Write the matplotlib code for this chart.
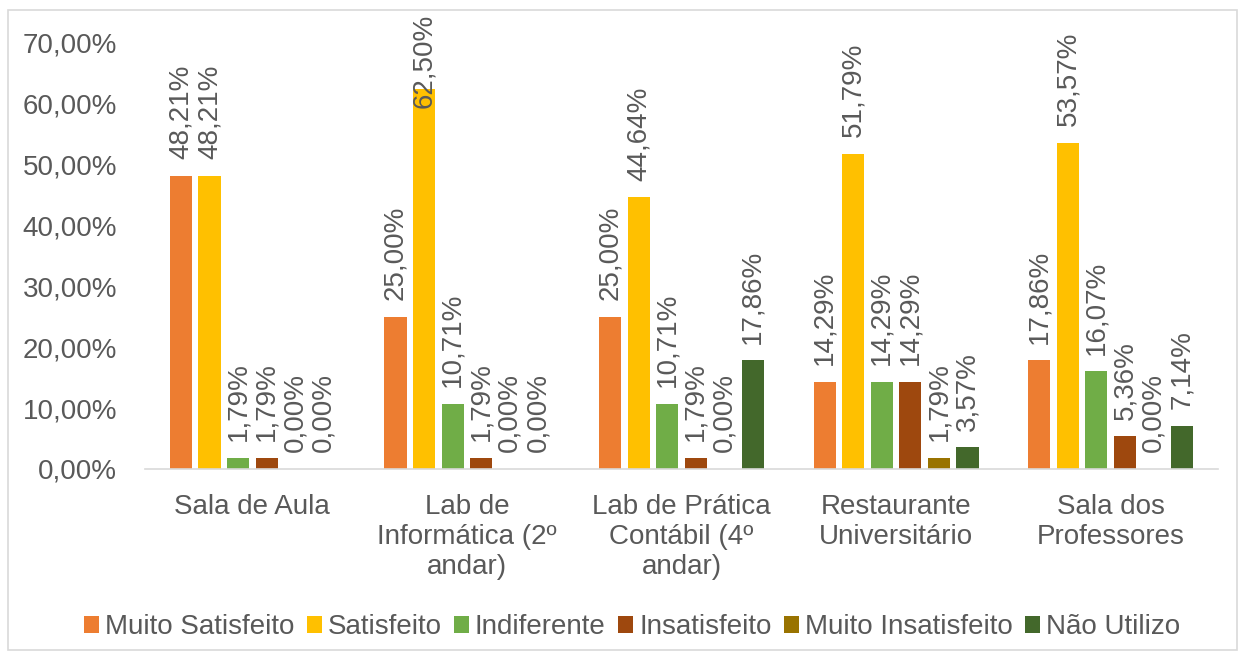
import matplotlib.pyplot as plt
from matplotlib.patches import Rectangle
from matplotlib.transforms import blended_transform_factory
import numpy as np

plt.rcParams['font.family'] = ['Liberation Sans', 'DejaVu Sans']

# data (percent)
categories = ["Sala de Aula", "Lab de\nInformática (2º\nandar)", "Lab de Prática\nContábil (4º\nandar)",
              "Restaurante\nUniversitário", "Sala dos\nProfessores"]
series_names = ["Muito Satisfeito", "Satisfeito", "Indiferente", "Insatisfeito",
                "Muito Insatisfeito", "Não Utilizo"]
muito_satisfeito = [48.21, 25.00, 25.00, 14.29, 17.86]
satisfeito = [48.21, 62.50, 44.64, 51.79, 53.57]
indiferente = [1.79, 10.71, 10.71, 14.29, 16.07]
insatisfeito = [1.79, 1.79, 1.79, 14.29, 5.36]
muito_insatisfeito = [0.00, 0.00, 0.00, 1.79, 0.00]
nao_utilizo = [0.00, 0.00, 17.86, 3.57, 7.14]
colors = ["#ED7D31", "#FFC000", "#70AD47", "#9E480E", "#997300", "#43682B"]

series = [muito_satisfeito, satisfeito, indiferente, insatisfeito, muito_insatisfeito, nao_utilizo]
txt = "#595959"

def pct(v):
    return f"{v:.2f}%".replace(".", ",")

fig = plt.figure(figsize=(12.46, 6.59), dpi=100)
ax = fig.add_axes([145/1246, 1 - 469/659, (1218-145)/1246, (469-43)/659])
top_tr = blended_transform_factory(ax.transData, fig.transFigure)

x = np.arange(len(categories))
step = 0.133
width = 0.103
for i, (name, vals, c) in enumerate(zip(series_names, series, colors)):
    pos = x + (i - 2.5) * step
    ax.bar(pos, vals, width, color=c, label=name)
    for p, v in zip(pos, vals):
        if v > 55:
            # too tall: Excel pushes the label down against the chart top
            ax.text(p, 1 - 14/659, pct(v), transform=top_tr, rotation=90,
                    ha="center", va="top", fontsize=20, color=txt)
        else:
            ax.annotate(pct(v), (p, v), xytext=(0, 12), textcoords="offset points",
                        rotation=90, ha="center", va="bottom", fontsize=20, color=txt)

ax.set_xlim(-0.5, len(categories) - 0.5)
ax.set_ylim(0, 70)
ax.set_yticks(range(0, 71, 10))
ax.set_yticklabels([pct(t) for t in range(0, 71, 10)], fontsize=20, color=txt)
ax.set_xticks(x)
ax.set_xticklabels(categories, fontsize=20, color=txt, linespacing=1.2)
ax.tick_params(axis="both", length=0)
ax.tick_params(axis="y", pad=20)
ax.tick_params(axis="x", pad=18)
for s in ["top", "right", "left"]:
    ax.spines[s].set_visible(False)
ax.spines["bottom"].set_color("#D9D9D9")
ax.spines["bottom"].set_linewidth(1.2)

fig.legend(loc="center", bbox_to_anchor=(632/1246, 1 - 627/659), ncol=6, frameon=False,
           fontsize=20, handlelength=0.55, handleheight=0.55, handletextpad=0.2,
           columnspacing=0.45, labelcolor=txt)

fig.patches.append(Rectangle((8/1246, 1 - 650/659), 1229/1246, 640/659, transform=fig.transFigure,
                             fill=False, edgecolor="#D9D9D9", linewidth=1.2))

fig.savefig("out.png", dpi=100)
